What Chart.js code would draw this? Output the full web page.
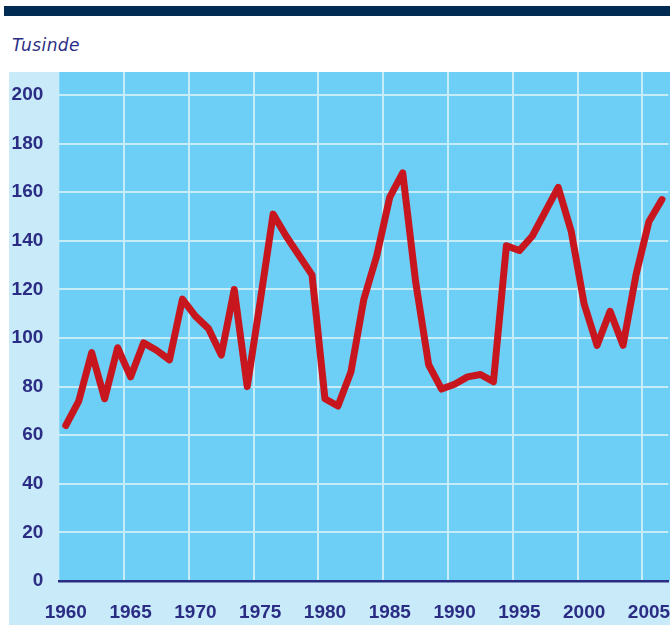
<!DOCTYPE html>
<html>
<head>
<meta charset="utf-8">
<script src="https://cdn.jsdelivr.net/npm/chart.js@4"></script>
<style>
  body { margin: 0; background: #ffffff; width: 670px; height: 625px; position: relative; overflow: hidden; }
  .topbar { position: absolute; left: 4px; top: 6px; width: 666px; height: 10px; background: #022b54; }
  .unit { position: absolute; left: 12px; top: 35px; font: italic 17px "DejaVu Sans", sans-serif; letter-spacing: 0.4px; color: #2b2d84; }
  #chart { position: absolute; left: 9px; top: 72px; }
</style>
</head>
<body>
<div class="topbar"></div>
<div class="unit">Tusinde</div>
<canvas id="chart" width="661" height="553"></canvas>
<script>
const years = [
  1960, 1961, 1962, 1963, 1964, 1965, 1966, 1967, 1968, 1969,
  1970, 1971, 1972, 1973, 1974, 1975, 1976, 1977, 1978, 1979,
  1980, 1981, 1982, 1983, 1984, 1985, 1986, 1987, 1988, 1989,
  1990, 1991, 1992, 1993, 1994, 1995, 1996, 1997, 1998, 1999,
  2000, 2001, 2002, 2003, 2004, 2005, 2006
];
const values = [
  64, 74, 94, 75, 96, 84, 98, 95, 91, 116,
  109, 104, 93, 120, 80, 115, 151, 142, 134, 126,
  75, 72, 86, 116, 134, 158, 168, 123, 89, 79,
  81, 84, 85, 82, 138, 136, 142, 152, 162, 144,
  114, 97, 111, 97, 126, 148, 157
];
const xTicks = [1960, 1965, 1970, 1975, 1980, 1985, 1990, 1995, 2000, 2005];
const yTicks = [0, 20, 40, 60, 80, 100, 120, 140, 160, 180, 200];

const navy = "#2b2d84";
const gridColor = "#c6ecfa";
const tickFont = { family: "'Liberation Sans Narrow', 'Liberation Sans', sans-serif", size: 19, weight: "bold" };

// light frame + cyan plot panel behind the grid
const panels = {
  id: "panels",
  beforeDraw: (chart) => {
    const { ctx, chartArea, width, height } = chart;
    ctx.save();
    ctx.fillStyle = "#c8eaf9";
    ctx.fillRect(0, 0, width, height);
    ctx.fillStyle = "#6dcff6";
    ctx.fillRect(chartArea.left, chartArea.top, width - chartArea.left, chartArea.bottom - chartArea.top);
    ctx.restore();
  }
};

// no extra room for edge labels, the frame is fixed
const noEdgePadding = (scale) => {
  scale.paddingLeft = 0;
  scale.paddingRight = 0;
  scale.paddingTop = 0;
  scale.paddingBottom = 0;
};

// each year sits in the middle of its band
const points = years.map((y, i) => ({ x: y + 0.5, y: values[i] }));

new Chart(document.getElementById("chart"), {
  type: "line",
  data: {
    datasets: [
      {
        data: points,
        borderColor: "#c8161e",
        borderWidth: 7,
        borderJoinStyle: "round",
        borderCapStyle: "round",
        pointRadius: 0,
        tension: 0
      }
    ]
  },
  options: {
    responsive: false,
    animation: false,
    devicePixelRatio: 1,
    layout: { padding: { left: 0, right: 1.6, top: 0, bottom: 0 } },
    plugins: {
      legend: { display: false },
      tooltip: { enabled: false }
    },
    scales: {
      x: {
        type: "linear",
        min: 1960,
        max: 2007,
        afterBuildTicks: (scale) => {
          scale.ticks = xTicks.map((v) => ({ value: v }));
        },
        afterFit: (scale) => {
          scale.height = 44;
          noEdgePadding(scale);
        },
        grid: {
          color: (c) => (c.tick && c.tick.value === 1960 ? "transparent" : gridColor),
          lineWidth: 2,
          drawTicks: false
        },
        border: { display: true, color: navy, width: 2.5 },
        ticks: {
          autoSkip: false,
          maxRotation: 0,
          padding: 20,
          labelOffset: 6.5,
          color: navy,
          font: tickFont,
          callback: (v) => String(v)
        }
      },
      y: {
        min: 0,
        max: 209.5,
        afterBuildTicks: (scale) => {
          scale.ticks = yTicks.map((v) => ({ value: v }));
        },
        afterFit: (scale) => {
          scale.width = 50.3;
          noEdgePadding(scale);
        },
        grid: { color: gridColor, lineWidth: 2, drawTicks: false },
        border: { display: false },
        ticks: {
          padding: 16,
          color: navy,
          font: tickFont,
          callback: (v) => String(v)
        }
      }
    }
  },
  plugins: [panels]
});
</script>
</body>
</html>
